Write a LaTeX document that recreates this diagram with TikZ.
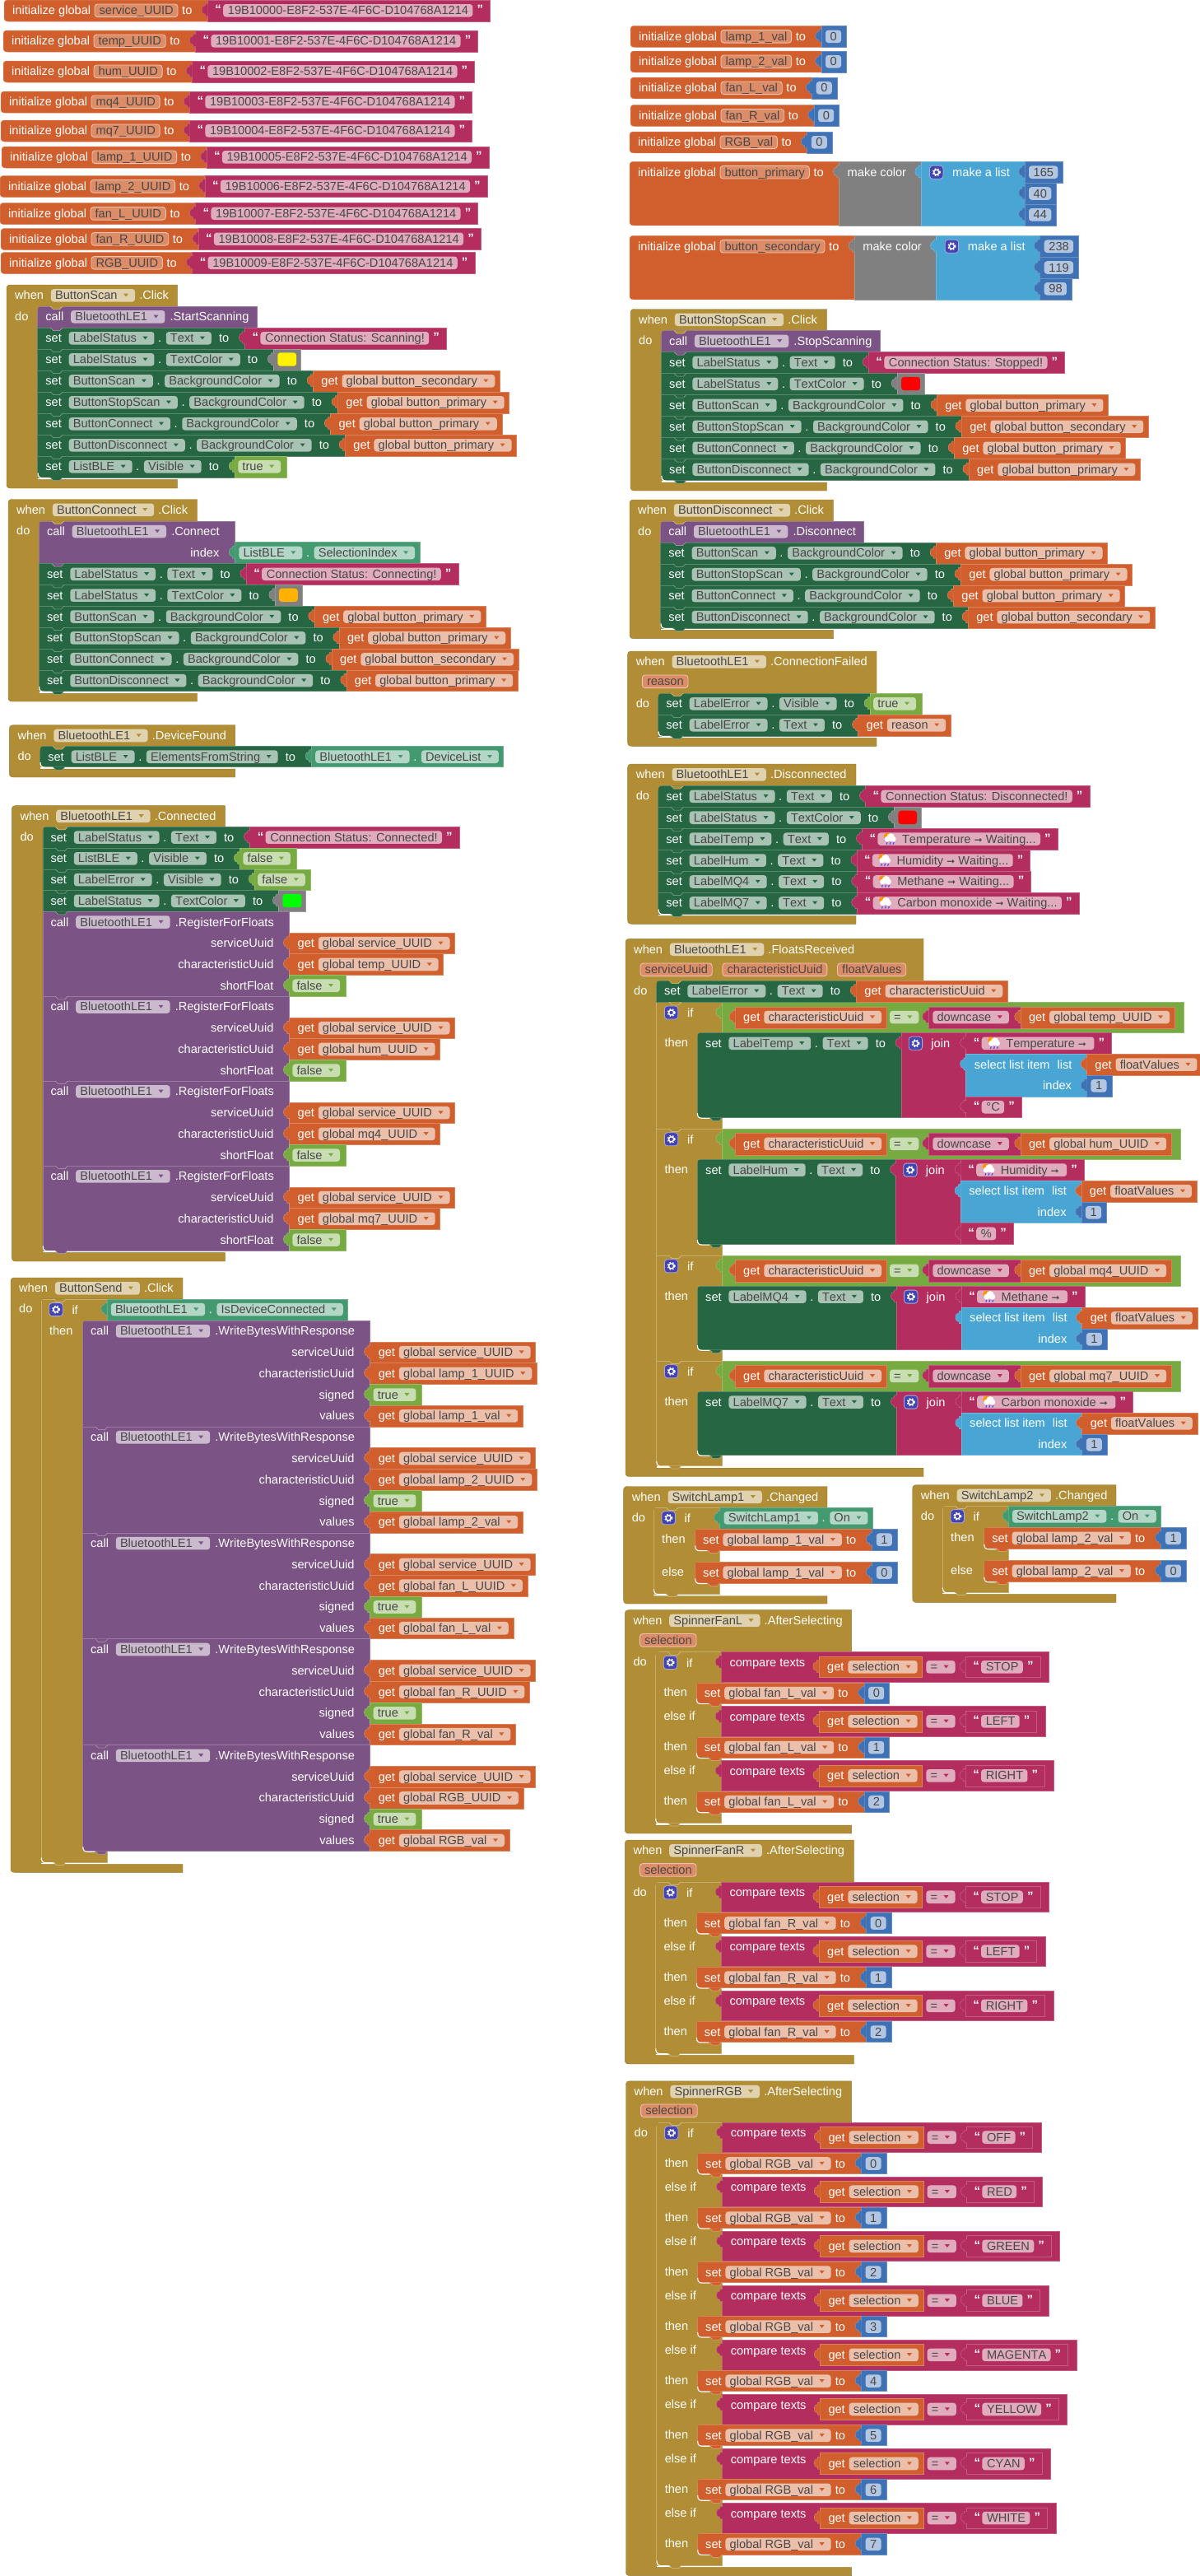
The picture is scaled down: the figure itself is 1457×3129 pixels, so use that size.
\documentclass[tikz,border=0pt]{standalone}
\usepackage{fontspec}
\setmainfont[Kerning=Off]{Liberation Sans}
\newfontfamily\arrowfont{DejaVu Sans}
\usetikzlibrary{backgrounds}

\pgfdeclarelayer{shell}
\pgfdeclarelayer{blocks}
\pgfsetlayers{background,shell,blocks,main}

\definecolor{orangeblk}{HTML}{D05F2D}
\definecolor{pinkblk}{HTML}{B32D5E}
\definecolor{greenblk}{HTML}{266643}
\definecolor{purpleblk}{HTML}{7C5385}
\definecolor{goldblk}{HTML}{B18E35}
\definecolor{greenlogic}{HTML}{77AB41}
\definecolor{tealblk}{HTML}{439970}
\definecolor{blueblk}{HTML}{3F71B5}
\definecolor{listblk}{HTML}{49A6D4}
\definecolor{greyblk}{HTML}{808080}
\definecolor{gearblk}{HTML}{4444B0}

\newcommand\blockfont{\fontsize{14.6}{16}\selectfont}
\newcommand\arr{{\arrowfont\fontsize{12}{14}\selectfont ➞}}

\newdimen\cx \newdimen\ty \newdimen\rx \newdimen\rh
\newdimen\vs \newdimen\gs \newdimen\jc \newdimen\lc \newdimen\tw

% pen position
\newcommand\hs[1]{\global\advance\cx #1pt\relax}
\newcommand\setcx[1]{\pgfmathsetlength\cx{#1}\global\cx=\cx}
\newcommand\nextrow{\global\advance\ty\rh}
\newcommand\rowat[3]{\pgfmathsetlength\rx{#1}\global\rx=\rx
	\pgfmathsetlength\ty{#2}\global\ty=\ty
	\pgfmathsetlength\rh{#3}\global\rh=\rh}
\newcommand\measure[1]{\pgfinterruptpicture\sbox0{\blockfont #1}\global\tw=\wd0 \endpgfinterruptpicture}

% block bodies, collected and painted together at the end of the picture
\gdef\blockqueue{}
\newcommand\blockrect[4]{\pgfmathsetmacro\qa{#2}\pgfmathsetmacro\qb{#3}\pgfmathsetmacro\qc{\ty}\pgfmathsetmacro\qd{\ty+#4}
	\xdef\blockqueue{\unexpanded\expandafter{\blockqueue}\noexpand\filldraw[blockbox=#1] (\qa,\qc) rectangle (\qb,\qd);}}
\newcommand\shellrect[4]{\begin{pgfonlayer}{shell}
	\filldraw[blockbox=#1] ({#2},\ty) rectangle ({#3},{\ty+#4});
	\end{pgfonlayer}}
\newcommand\leftrect[4]{\begin{pgfonlayer}{shell}
	\filldraw[blockbox=#1] ({#3},\ty) -- ({#2+5},\ty) .. controls ({#2+1.5},\ty) and ({#2},{\ty+1.5}) .. ({#2},{\ty+5})
	-- ({#2},{\ty+#4-5}) .. controls ({#2},{\ty+#4-1.5}) and ({#2+1.5},{\ty+#4}) .. ({#2+5},{\ty+#4})
	-- ({#3},{\ty+#4}) -- cycle;
	\end{pgfonlayer}}
\newcommand\tabshape[1]{\filldraw[fill=#1,draw=#1!70!white,line width=.4pt]
	({\cx+.4},{\ty+4.5}) -- ({\cx-2.6},{\ty+4.5}) -- ({\cx-3},{\ty+6.8})
	.. controls ({\cx-8.5},{\ty+6}) and ({\cx-8.5},{\ty+18}) .. ({\cx-3},{\ty+17.2})
	-- ({\cx-2.6},{\ty+19.5}) -- ({\cx+.4},{\ty+19.5});}
\newcommand\tooth[3]{\filldraw[fill=#1,draw=#1!55!white,line width=.5pt]
	({#2+15.5},{#3}) -- ({#2+19},{#3+3.6}) -- ({#2+27},{#3+3.6}) -- ({#2+30.5},{#3});}
\newcommand\stackcorners[3]{%
	\fill[goldblk] ({#1-.6},{#2-.4}) -- ({#1+5},{#2-.4}) .. controls ({#1+1.5},{#2}) and ({#1},{#2+1.5}) .. ({#1},{#2+5}) -- ({#1-.6},{#2+5}) -- cycle;
	\fill[goldblk] ({#1-.6},{#3-5}) -- ({#1},{#3-5}) .. controls ({#1},{#3-1.5}) and ({#1+1.5},{#3}) .. ({#1+5},{#3}) -- ({#1+5},{#3+.4}) -- ({#1-.6},{#3+.4}) -- cycle;
	\draw[white,line width=1.1pt] ({#1+.4},{#3-5.5}) .. controls ({#1+.4},{#3-1.2}) and ({#1+2},{#3+.6}) .. ({#1+6},{#3+.6}) -- ({#1+15},{#3+.6});}

% labels and fields
\newcommand\lab[1]{\measure{#1}\node[lab] at (\cx,{\ty+17.8}) {#1};\global\advance\cx\tw}
\newcommand\dotsep{\node[lab] at ({\cx+4.5},{\ty+17.8}) {.};\hs{14.3}}
\newcommand\boxfld[2]{\measure{#2}
	\fill[#1!40!white,rounded corners=3.5pt] (\cx,{\ty+5}) rectangle ({\cx+\tw+11},{\ty+20.6});
	\node[fldtext] at ({\cx+5.5},{\ty+17.8}) {#2};
	\global\advance\cx\tw \hs{11}}
\newcommand\chipfld[2]{\measure{#2}
	\filldraw[fill=#1!72!white,draw=#1!38!white,line width=.9pt,rounded corners=3.5pt] (\cx,{\ty+5}) rectangle ({\cx+\tw+11},{\ty+20.6});
	\node[fldtext] at ({\cx+5.5},{\ty+17.8}) {#2};
	\global\advance\cx\tw \hs{11}}
\newcommand\dropfld[2]{\measure{#2}
	\fill[#1!40!white,rounded corners=3.5pt] (\cx,{\ty+5}) rectangle ({\cx+\tw+26.7},{\ty+20.6});
	\node[fldtext] at ({\cx+5},{\ty+17.8}) {#2};
	\global\advance\cx\tw \hs{26.7}
	\fill[#1] ({\cx-14},{\ty+10.6}) -- ({\cx-8},{\ty+10.6}) -- ({\cx-11},{\ty+14.4}) -- cycle;}
\newcommand\Gear[2]{\filldraw[fill=gearblk,draw=gearblk!45!white,line width=.8pt,rounded corners=3.5pt] ({#1},{#2}) rectangle ({#1+16.4},{#2+16});
	\draw[white,line width=1.3pt] ({#1+8.2},{#2+8}) circle (3);
	\draw[white,line width=1.5pt,dash pattern=on 1.7pt off 1.9pt] ({#1+8.2},{#2+8}) circle (4.4);}
\newcommand\Rainy[2]{\fill[orange!85!yellow] ({#1+5},{#2+4.6}) circle (4.4);
	\fill[white] ({#1+9},{#2+5.8}) circle (4.8) ({#1+5},{#2+8}) circle (3.4) ({#1+12},{#2+8}) circle (3.4);
	\foreach \d in {4,8,12} \draw[blue!70!white,line width=1.2pt] ({#1+\d+.8},{#2+12}) -- ({#1+\d},{#2+14.6});}

% value blocks
\newcommand\Get[1]{\tabshape{orangeblk}\global\vs=\cx\hs{10}\lab{get}\hs{5}\dropfld{orangeblk}{#1}\hs{6}\blockrect{orangeblk}{\vs}{\cx}{\rh}}
\newcommand\Str[1]{\tabshape{pinkblk}\global\vs=\cx\hs{19}\node[quo] at ({\cx-10},{\ty+16.8}) {“};
	\boxfld{pinkblk}{#1}\node[quo] at ({\cx+5},{\ty+16.8}) {”};\hs{21}\blockrect{pinkblk}{\vs}{\cx}{\rh}}
\newcommand\StrIcon[1]{\tabshape{pinkblk}\global\vs=\cx\hs{19}\node[quo] at ({\cx-10},{\ty+16.8}) {“};
	\measure{#1}
	\fill[pinkblk!40!white,rounded corners=3.5pt] (\cx,{\ty+5}) rectangle ({\cx+\tw+35},{\ty+20.6});
	\Rainy{\cx+6.8}{\ty+4.8}
	\node[fldtext] at ({\cx+29.4},{\ty+17.8}) {#1};
	\global\advance\cx\tw\hs{35}\node[quo] at ({\cx+5},{\ty+16.8}) {”};\hs{21}\blockrect{pinkblk}{\vs}{\cx}{\rh}}
\newcommand\Num[1]{\tabshape{blueblk}\global\vs=\cx\hs{5.2}\boxfld{blueblk}{#1}\hs{6.2}\blockrect{blueblk}{\vs}{\cx}{\rh}}
\newcommand\Bool[1]{\tabshape{greenlogic}\global\vs=\cx\hs{4}\dropfld{greenlogic}{#1}\hs{6.9}\blockrect{greenlogic}{\vs}{\cx}{\rh}}
\newcommand\Prop[2]{\tabshape{tealblk}\global\vs=\cx\hs{5}\dropfld{tealblk}{#1}\dotsep\dropfld{tealblk}{#2}\hs{5.7}\blockrect{tealblk}{\vs}{\cx}{\rh}}
\newcommand\Swatch[1]{\tabshape{greyblk}\global\vs=\cx\hs{5}\fill[#1,rounded corners=3.5pt] (\cx,{\ty+4.3}) rectangle ({\cx+22.8},{\ty+20.7});\hs{27.8}\blockrect{greyblk}{\vs}{\cx}{\rh}}

% statements
\newcommand\Set[3]{\global\cx=\rx\hs{9.5}\lab{set}\hs{9}\dropfld{greenblk}{#1}\dotsep\dropfld{greenblk}{#2}\hs{9}\lab{to}\hs{19.4}
	\blockrect{greenblk}{\rx}{\cx}{\rh}\tooth{greenblk}{\rx}{\ty+\rh}#3\nextrow}
\newcommand\SetG[2]{\global\cx=\rx\hs{9.7}\lab{set}\hs{5}\dropfld{orangeblk}{#1}\hs{5}\lab{to}\hs{19.5}
	\blockrect{orangeblk}{\rx}{\cx}{\rh}\tooth{orangeblk}{\rx}{\ty+\rh}#2\nextrow}
\newcommand\CallHead[3]{\global\cx=\rx\hs{9.5}\lab{call}\hs{9}\dropfld{purpleblk}{#1}\hs{6}\lab{#2}\hs{#3}}
\newcommand\Call[2]{\CallHead{#1}{#2}{10}\blockrect{purpleblk}{\rx}{\cx}{\rh}\tooth{purpleblk}{\rx}{\ty+\rh}\nextrow}
\newcommand\CallP[3]{\CallHead{#1}{#2}{18.8}\global\lc=\cx\blockrect{purpleblk}{\rx}{\cx}{#3*\rh}\tooth{purpleblk}{\rx}{\ty+#3*\rh}\nextrow}
\newcommand\Param[2]{\node[labr] at ({\lc-18.8},{\ty+17.8}) {#1};\global\cx=\lc #2\nextrow}
\newcommand\RegFloats[1]{\CallP{BluetoothLE1}{.RegisterForFloats}{4}
	\Param{serviceUuid}{\Get{global service\_UUID}}
	\Param{characteristicUuid}{\Get{global #1\_UUID}}
	\Param{shortFloat}{\Bool{false}}}
\newcommand\WriteB[2]{\CallP{BluetoothLE1}{.WriteBytesWithResponse}{5}
	\Param{serviceUuid}{\Get{global service\_UUID}}
	\Param{characteristicUuid}{\Get{global #1\_UUID}}
	\Param{signed}{\Bool{true}}
	\Param{values}{\Get{global #2\_val}}}

% globals
\newcommand\InitHead[1]{\global\gs=\rx\global\cx=\rx\hs{10}\lab{initialize global}\hs{5}\chipfld{orangeblk}{#1}\hs{5}\lab{to}\hs{19}}
\newcommand\InitStr[4]{\rowat{#1}{#2}{26}\InitHead{#3}\leftrect{orangeblk}{\gs}{\cx}{\rh}\Str{19B1000#4-E8F2-537E-4F6C-D104768A1214}}
\newcommand\InitNum[3]{\rowat{#1}{#2}{25.8}\InitHead{#3}\leftrect{orangeblk}{\gs}{\cx}{\rh}\Num{0}}
\newcommand\InitColor[6]{\rowat{#1}{#2}{25.8}\InitHead{#3}\leftrect{orangeblk}{\gs}{\cx}{3*\rh}
	\tabshape{greyblk}\global\vs=\cx\hs{10}\lab{make color}\hs{18}\blockrect{greyblk}{\vs}{\cx}{3*\rh}
	\tabshape{listblk}\global\vs=\cx\hs{10.6}\Gear{\cx}{\ty+4.8}\hs{27.5}\lab{make a list}\hs{18}\blockrect{listblk}{\vs}{\cx}{3*\rh}
	\global\lc=\cx\Num{#4}\nextrow\global\cx=\lc\Num{#5}\nextrow\global\cx=\lc\Num{#6}}

% event block with the row stack inside it
\newcommand\Hat[9]{\begin{pgfonlayer}{background}
	\filldraw[fill=goldblk,draw=goldblk!85!black,line width=.4pt] ({#3},{#5}) -- ({#3},{#2}) -- ({#1+5},{#2}) .. controls ({#1+1.5},{#2}) and ({#1},{#2+1.5}) .. ({#1},{#2+5})
		-- ({#1},{#7-5}) .. controls ({#1},{#7-1.5}) and ({#1+1.5},{#7}) .. ({#1+5},{#7})
		-- ({#3},{#7}) -- ({#3},{#6+2.6}) -- ({#4},{#6+2.6}) -- ({#4},{#5}) -- cycle;
	\end{pgfonlayer}
	\xdef\hatin{#4}\xdef\hatbody{#5}\xdef\hatlast{#6}\xdef\hatleft{#1}
	\pgfmathsetlength\ty{#2}\global\ty=\ty
	\setcx{#1+10}\lab{when}\hs{9}\dropfld{goldblk}{#8}\hs{5}\lab{#9}
	\node[lab] at ({#1+10},{#5+17}) {do};
	\tooth{goldblk}{#4}{#5}
	\stackcorners{#4}{#5}{#6}}
\newcommand\Chip[2]{\pgfmathsetlength\ty{#1-5}\global\ty=\ty\chipfld{orangeblk}{#2}\hs{12.6}}
\newcommand\Rows[1]{\pgfmathsetmacro\rowh{(\hatlast-\hatbody)/#1}\rowat{\hatin}{\hatbody}{\rowh}}

% if block
\newcommand\Arm[4]{\begin{pgfonlayer}{background}
	\filldraw[fill=goldblk,draw=goldblk!72!white,line width=.6pt] ({#1},{#3}) rectangle ({#2},{#4});
	\end{pgfonlayer}\tooth{goldblk}{#1}{#4}\tooth{goldblk}{#1}{#3}}
\newcommand\IfHead[2]{\Gear{#1+10}{#2+4.8}\node[lab] at ({#1+37.5},{#2+18.6}) {if};}
\newcommand\ArmLab[3]{\node[lab] at ({#1+10},{#2+17}) {#3};}

% the equality test of the sensor branches
\newcommand\EqRow[1]{\global\gs=\cx\tabshape{greenlogic}\hs{16}\global\advance\ty 5.6pt\global\rh=26.4pt
	\Get{characteristicUuid}\hs{4}\dropfld{greenlogic}{=}\hs{11.5}
	\tabshape{pinkblk}\global\vs=\cx\hs{5.6}\dropfld{pinkblk}{downcase}\hs{14}\blockrect{pinkblk}{\vs}{\cx}{\rh}
	\Get{global #1}\hs{11}\global\advance\ty -5.6pt
	\shellrect{greenlogic}{\gs}{\cx}{36.8}}

% sensor branch: set ... to join(...)
\newcommand\FloatIf[7]{\Arm{797.4}{877}{#1}{#2}\IfHead{797.4}{#1}
	\setcx{877}\pgfmathsetlength\ty{#1}\global\ty=\ty\EqRow{#4}
	\ArmLab{797.4}{#1+37.3}{then}
	\rowat{847}{#1+37.3}{25.8}
	\global\cx=\rx\hs{10}\lab{set}\hs{9}\dropfld{greenblk}{#3}\dotsep\dropfld{greenblk}{Text}\hs{9}\lab{to}\hs{19.4}
	\blockrect{greenblk}{\rx}{\cx}{#7*\rh}\tooth{greenblk}{\rx}{\ty+#7*\rh}
	\tabshape{pinkblk}\global\gs=\cx\hs{9}\Gear{\cx}{\ty+4.8}\hs{27}\lab{join}\hs{19.8}\blockrect{pinkblk}{\gs}{\cx}{#7*\rh}
	\global\jc=\cx\StrIcon{#5}\nextrow
	\global\cx=\jc\tabshape{listblk}\hs{10}\lab{select list item}\hs{9}\lab{list}\hs{18}\global\lc=\cx\blockrect{listblk}{\jc}{\cx}{2*\rh}
	\Get{floatValues}\nextrow
	\node[labr] at ({\lc-18},{\ty+17.8}) {index};\global\cx=\lc\Num{1}\nextrow
	\global\cx=\jc #6
	\stackcorners{847}{#1+37.3}{#1+37.3+#7*25.8}}

% spinner branch: compare texts plus one set
\newcommand\Pair[5]{\ifnum#3=0 \IfHead{#1}{#2}\else\ArmLab{#1}{#2}{else if}\fi
	\setcx{#1+80}\pgfmathsetlength\ty{#2}\global\ty=\ty
	\global\gs=\cx\tabshape{pinkblk}\hs{10}\lab{compare texts}\hs{17}
	\global\advance\ty 5.4pt\global\rh=25.7pt
	\Get{selection}\hs{4.7}\dropfld{pinkblk}{=}\hs{12.5}\Str{#4}
	\global\advance\ty -5.4pt\hs{10.4}\shellrect{pinkblk}{\gs}{\cx}{36.6}
	\ArmLab{#1}{#2+37.2}{then}
	\rowat{#1+49.7}{#2+37.2}{25.2}
	\SetG{global #5}{\Num{#3}}
	\stackcorners{#1+49.7}{#2+37.2}{#2+62.4}}

\begin{document}
\begin{tikzpicture}[x=1pt,y=1pt,yscale=-1,every node/.style={font=\blockfont}]

	\tikzstyle{blockbox}=[fill=#1,draw=#1!78!white,line width=.5pt]
	\tikzstyle{lab}=[anchor=base west,inner sep=0pt,text=white]
	\tikzstyle{labr}=[anchor=base east,inner sep=0pt,text=white]
	\tikzstyle{fldtext}=[anchor=base west,inner sep=0pt,text=black!72]
	\tikzstyle{quo}=[anchor=base west,inner sep=0pt,text=white!90!pink,font=\fontsize{15}{16}\selectfont\bfseries]

	\useasboundingbox (0,0) rectangle (1457,3129);
	\begin{pgfonlayer}{background}
		\fill[white] (0,0) rectangle (1457,3129);
	\end{pgfonlayer}

	% UUID globals
	\foreach \px/\py/\nam/\dig in {5/0/service\_UUID/0, 4/37/temp\_UUID/1, 4/74/hum\_UUID/2, 1/111/mq4\_UUID/3, 1/146/mq7\_UUID/4, 2/178/lamp\_1\_UUID/5, 0/213.5/lamp\_2\_UUID/6, 0/246.5/fan\_L\_UUID/7, 1/277.5/fan\_R\_UUID/8, 1/306.5/RGB\_UUID/9}
		{\InitStr{\px}{\py}{\nam}{\dig}}

	% value globals
	\foreach \px/\py/\nam in {766/31.5/lamp\_1\_val, 766/62/lamp\_2\_val, 766/94/fan\_L\_val, 766/127.5/fan\_R\_val, 765/160/RGB\_val}
		{\InitNum{\px}{\py}{\nam}}
	\InitColor{765}{196.4}{button\_primary}{165}{40}{44}
	\InitColor{765}{286.4}{button\_secondary}{238}{119}{98}

	% ButtonScan
	\Hat{8}{346}{215.4}{45.7}{372}{580}{593}{ButtonScan}{.Click}
	\Rows{8}
	\Call{BluetoothLE1}{.StartScanning}
	\Set{LabelStatus}{Text}{\Str{Connection Status: Scanning!}}
	\Set{LabelStatus}{TextColor}{\Swatch{yellow}}
	\Set{ButtonScan}{BackgroundColor}{\Get{global button\_secondary}}
	\Set{ButtonStopScan}{BackgroundColor}{\Get{global button\_primary}}
	\Set{ButtonConnect}{BackgroundColor}{\Get{global button\_primary}}
	\Set{ButtonDisconnect}{BackgroundColor}{\Get{global button\_primary}}
	\Set{ListBLE}{Visible}{\Bool{true}}

	% ButtonConnect
	\Hat{10}{606.5}{239.5}{47.3}{632.8}{839.7}{852}{ButtonConnect}{.Click}
	\Rows{8}
	\CallP{BluetoothLE1}{.Connect}{2}
	\Param{index}{\Prop{ListBLE}{SelectionIndex}}
	\Set{LabelStatus}{Text}{\Str{Connection Status: Connecting!}}
	\Set{LabelStatus}{TextColor}{\Swatch{orange!60!yellow}}
	\Set{ButtonScan}{BackgroundColor}{\Get{global button\_primary}}
	\Set{ButtonStopScan}{BackgroundColor}{\Get{global button\_primary}}
	\Set{ButtonConnect}{BackgroundColor}{\Get{global button\_secondary}}
	\Set{ButtonDisconnect}{BackgroundColor}{\Get{global button\_primary}}

	% device list
	\Hat{11.4}{880.7}{285.6}{48.6}{906.4}{931.5}{944}{BluetoothLE1}{.DeviceFound}
	\Rows{1}
	\Set{ListBLE}{ElementsFromString}{\Prop{BluetoothLE1}{DeviceList}}

	% subscribe on connect
	\Hat{14.3}{978.6}{273.4}{51.8}{1004.3}{1519}{1532}{BluetoothLE1}{.Connected}
	\Rows{20}
	\Set{LabelStatus}{Text}{\Str{Connection Status: Connected!}}
	\Set{ListBLE}{Visible}{\Bool{false}}
	\Set{LabelError}{Visible}{\Bool{false}}
	\Set{LabelStatus}{TextColor}{\Swatch{green}}
	\RegFloats{temp}
	\RegFloats{hum}
	\RegFloats{mq4}
	\RegFloats{mq7}

	% ButtonSend
	\Hat{13}{1552}{222}{49.8}{1577.8}{2262}{2274.3}{ButtonSend}{.Click}
	\Arm{49.8}{129.8}{1577.8}{2262}
	\IfHead{49.8}{1577.8}
	\setcx{129.8}\rowat{129.8}{1577.8}{26.2}
	\Prop{BluetoothLE1}{IsDeviceConnected}
	\ArmLab{49.8}{1604}{then}
	\rowat{100.4}{1604}{25.78}
	\WriteB{lamp\_1}{lamp\_1}
	\WriteB{lamp\_2}{lamp\_2}
	\WriteB{fan\_L}{fan\_L}
	\WriteB{fan\_R}{fan\_R}
	\WriteB{RGB}{RGB}
	\stackcorners{100.4}{1604}{2248.6}

	% ButtonStopScan
	\Hat{766}{375.5}{1004.7}{803.5}{401.5}{583.5}{596}{ButtonStopScan}{.Click}
	\Rows{7}
	\Call{BluetoothLE1}{.StopScanning}
	\Set{LabelStatus}{Text}{\Str{Connection Status: Stopped!}}
	\Set{LabelStatus}{TextColor}{\Swatch{red}}
	\Set{ButtonScan}{BackgroundColor}{\Get{global button\_primary}}
	\Set{ButtonStopScan}{BackgroundColor}{\Get{global button\_secondary}}
	\Set{ButtonConnect}{BackgroundColor}{\Get{global button\_primary}}
	\Set{ButtonDisconnect}{BackgroundColor}{\Get{global button\_primary}}

	% ButtonDisconnect
	\Hat{765}{607}{1012.7}{802.6}{633}{762.8}{775.6}{ButtonDisconnect}{.Click}
	\Rows{5}
	\Call{BluetoothLE1}{.Disconnect}
	\Set{ButtonScan}{BackgroundColor}{\Get{global button\_primary}}
	\Set{ButtonStopScan}{BackgroundColor}{\Get{global button\_primary}}
	\Set{ButtonConnect}{BackgroundColor}{\Get{global button\_primary}}
	\Set{ButtonDisconnect}{BackgroundColor}{\Get{global button\_secondary}}

	% connection errors
	\Hat{762.6}{791}{1065}{799.7}{842}{893.8}{906.3}{BluetoothLE1}{.ConnectionFailed}
	\setcx{780.3}\Chip{820}{reason}
	\Rows{2}
	\Set{LabelError}{Visible}{\Bool{true}}
	\Set{LabelError}{Text}{\Get{reason}}

	\Hat{762.6}{928}{1040}{799.7}{954.5}{1110}{1122.3}{BluetoothLE1}{.Disconnected}
	\Rows{6}
	\Set{LabelStatus}{Text}{\Str{Connection Status: Disconnected!}}
	\Set{LabelStatus}{TextColor}{\Swatch{red}}
	\Set{LabelTemp}{Text}{\StrIcon{Temperature \arr\ Waiting...}}
	\Set{LabelHum}{Text}{\StrIcon{Humidity \arr\ Waiting...}}
	\Set{LabelMQ4}{Text}{\StrIcon{Methane \arr\ Waiting...}}
	\Set{LabelMQ7}{Text}{\StrIcon{Carbon monoxide \arr\ Waiting...}}

	% sensor readings
	\Hat{760}{1140.4}{1122}{797.4}{1191}{1780.6}{1793.5}{BluetoothLE1}{.FloatsReceived}
	\setcx{778}\Chip{1170}{serviceUuid}\Chip{1170}{characteristicUuid}\Chip{1170}{floatValues}
	\rowat{797.4}{1191}{26.2}
	\Set{LabelError}{Text}{\Get{characteristicUuid}}
	\FloatIf{1217.2}{1371}{LabelTemp}{temp\_UUID}{Temperature \arr\ }{\Str{°C}}{4}
	\FloatIf{1371}{1525}{LabelHum}{hum\_UUID}{Humidity \arr\ }{\Str{\%}}{4}
	\FloatIf{1525}{1653}{LabelMQ4}{mq4\_UUID}{Methane \arr\ }{}{3}
	\FloatIf{1653}{1780.6}{LabelMQ7}{mq7\_UUID}{Carbon monoxide \arr\ }{}{3}

	% lamp switches
	\Hat{757.6}{1805.5}{1005}{794}{1831}{1935.9}{1948}{SwitchLamp1}{.Changed}
	\Arm{794}{874.6}{1831}{1935.9}
	\IfHead{794}{1831}
	\setcx{874.6}\rowat{874.6}{1831}{26}
	\Prop{SwitchLamp1}{On}
	\ArmLab{794}{1857.4}{then}
	\rowat{844.3}{1857.4}{25.6}
	\SetG{global lamp\_1\_val}{\Num{1}}
	\stackcorners{844.3}{1857.4}{1883}
	\ArmLab{794}{1897.3}{else}
	\rowat{844.3}{1897.3}{25.6}
	\SetG{global lamp\_1\_val}{\Num{0}}
	\stackcorners{844.3}{1897.3}{1922.9}

	\Hat{1108.7}{1803.7}{1356}{1145}{1829}{1934}{1946.4}{SwitchLamp2}{.Changed}
	\Arm{1145}{1225}{1829}{1934}
	\IfHead{1145}{1829}
	\setcx{1225}\rowat{1225}{1829}{26}
	\Prop{SwitchLamp2}{On}
	\ArmLab{1145}{1855.5}{then}
	\rowat{1195.4}{1855.5}{25.6}
	\SetG{global lamp\_2\_val}{\Num{1}}
	\stackcorners{1195.4}{1855.5}{1881.1}
	\ArmLab{1145}{1895.5}{else}
	\rowat{1195.4}{1895.5}{25.6}
	\SetG{global lamp\_2\_val}{\Num{0}}
	\stackcorners{1195.4}{1895.5}{1921.1}

	% fan spinners
	\Hat{759.3}{1955.6}{1034.6}{796.3}{2006.6}{2214.5}{2227}{SpinnerFanL}{.AfterSelecting}
	\setcx{777.4}\Chip{1984.5}{selection}
	\Arm{796.3}{876.3}{2006.6}{2214.5}
	\foreach \k/\s in {0/STOP,1/LEFT,2/RIGHT}
		{\pgfmathsetmacro\py{2006.6+66.05*\k}\Pair{796.3}{\py}{\k}{\s}{fan\_L\_val}}

	\Hat{759.3}{2235}{1037.5}{796.3}{2286}{2494}{2507}{SpinnerFanR}{.AfterSelecting}
	\setcx{777.4}\Chip{2263.6}{selection}
	\Arm{796.3}{876.3}{2286}{2494}
	\foreach \k/\s in {0/STOP,1/LEFT,2/RIGHT}
		{\pgfmathsetmacro\py{2286+66.05*\k}\Pair{796.3}{\py}{\k}{\s}{fan\_R\_val}}

	% colour spinner
	\Hat{760.5}{2527.8}{1034.6}{797.6}{2578}{3116}{3128.6}{SpinnerRGB}{.AfterSelecting}
	\setcx{778.6}\Chip{2556}{selection}
	\Arm{797.6}{877.6}{2578}{3116}
	\foreach \k/\s in {0/OFF,1/RED,2/GREEN,3/BLUE,4/MAGENTA,5/YELLOW,6/CYAN,7/WHITE}
		{\pgfmathsetmacro\py{2578+66.05*\k}\Pair{797.6}{\py}{\k}{\s}{RGB\_val}}

	% paint the collected block bodies
	\begin{pgfonlayer}{blocks}
		\blockqueue
	\end{pgfonlayer}

\end{tikzpicture}
\end{document}
